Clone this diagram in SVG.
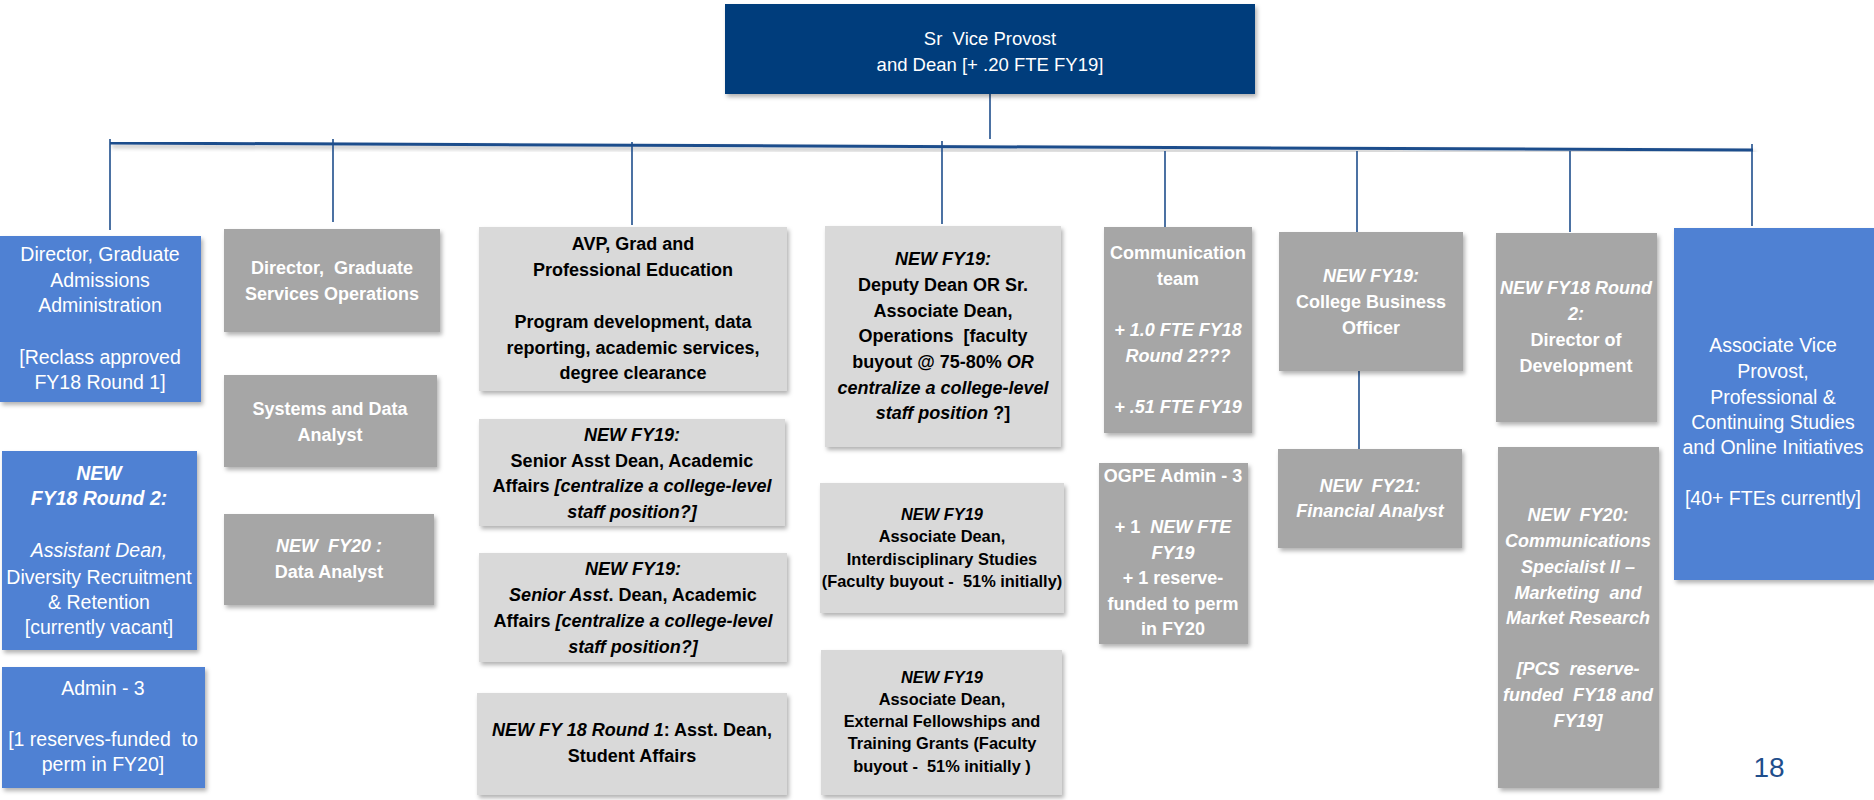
<svg xmlns="http://www.w3.org/2000/svg" width="1874" height="800" viewBox="0 0 1874 800">
<style>
text{font-family:"Liberation Sans",Arial,sans-serif;text-anchor:middle}
.w{fill:#ffffff}.k{fill:#000000}
.n{font-size:19.5px}
.b{font-size:18px;font-weight:bold}
.s{font-size:16.4px;font-weight:bold}
.i{font-style:italic}
.bi{font-style:italic;font-weight:bold}
.top{fill:#033E7B}.blue{fill:#4F81D3}.gray{fill:#A6A6A6}.lg{fill:#D9D9D9}
.ln{stroke:#1F4E8C;stroke-width:1.6;fill:none}
</style>
<defs>
<filter id="sh" x="-10%" y="-10%" width="130%" height="130%">
<feDropShadow dx="2" dy="3" stdDeviation="2" flood-color="#000" flood-opacity="0.3"/>
</filter>
</defs>
<rect width="1874" height="800" fill="#ffffff"/>

<g id="connectors">
<line class="ln" x1="990" y1="94" x2="990" y2="139"/>
<line x1="110" y1="143" x2="1753" y2="150" stroke="#1F4E8C" stroke-width="3" filter="url(#sh)"/>
<line class="ln" x1="110" y1="139" x2="110" y2="230"/>
<line class="ln" x1="333" y1="139" x2="333" y2="222"/>
<line class="ln" x1="632" y1="142" x2="632" y2="225"/>
<line class="ln" x1="942" y1="141" x2="942" y2="224"/>
<line class="ln" x1="1165" y1="151" x2="1165" y2="232"/>
<line class="ln" x1="1357" y1="151" x2="1357" y2="232"/>
<line class="ln" x1="1570" y1="151" x2="1570" y2="232"/>
<line class="ln" x1="1752" y1="144" x2="1752" y2="226"/>
<line class="ln" x1="1359" y1="367" x2="1359" y2="449" stroke-width="2.2"/>
</g>

<g id="n-top">
<rect class="top" x="725" y="4" width="530" height="90" filter="url(#sh)"/>
<text class="w" x="990" y="44.5" font-size="18.5" xml:space="preserve">Sr  Vice Provost</text>
<text class="w" x="990" y="70.5" font-size="18.5">and Dean [+ .20 FTE FY19]</text>
</g>

<g id="n-a1">
<rect class="blue" x="0" y="236" width="201" height="166" filter="url(#sh)"/>
<text class="w n" x="100" y="261">Director, Graduate</text>
<text class="w n" x="100" y="287">Admissions</text>
<text class="w n" x="100" y="312">Administration</text>
<text class="w n" x="100" y="364">[Reclass approved</text>
<text class="w n" x="100" y="389">FY18 Round 1]</text>
</g>

<g id="n-a2">
<rect class="blue" x="2" y="451" width="195" height="199" filter="url(#sh)"/>
<text class="w n bi" x="99" y="480">NEW</text>
<text class="w n bi" x="99" y="505">FY18 Round 2:</text>
<text class="w n i" x="99" y="557">Assistant Dean,</text>
<text class="w n" x="99" y="584">Diversity Recruitment</text>
<text class="w n" x="99" y="609">&amp; Retention</text>
<text class="w n" x="99" y="634">[currently vacant]</text>
</g>

<g id="n-a3">
<rect class="blue" x="2" y="667" width="203" height="121" filter="url(#sh)"/>
<text class="w n" x="103" y="695">Admin - 3</text>
<text class="w n" x="103" y="746" xml:space="preserve">[1 reserves-funded  to</text>
<text class="w n" x="103" y="771">perm in FY20]</text>
</g>

<g id="n-b1">
<rect class="gray" x="224" y="229" width="216" height="103" filter="url(#sh)"/>
<text class="w b" x="332" y="274" xml:space="preserve">Director,  Graduate</text>
<text class="w b" x="332" y="300">Services Operations</text>
</g>

<g id="n-b2">
<rect class="gray" x="224" y="375" width="213" height="92" filter="url(#sh)"/>
<text class="w b" x="330" y="415">Systems and Data</text>
<text class="w b" x="330" y="441">Analyst</text>
</g>

<g id="n-b3">
<rect class="gray" x="224" y="514" width="210" height="91" filter="url(#sh)"/>
<text class="w b i" x="329" y="552" xml:space="preserve">NEW  FY20 :</text>
<text class="w b" x="329" y="578">Data Analyst</text>
</g>

<g id="n-c1">
<rect class="lg" x="479" y="227" width="308" height="164" filter="url(#sh)"/>
<text class="k b" x="633" y="250">AVP, Grad and</text>
<text class="k b" x="633" y="276">Professional Education</text>
<text class="k b" x="633" y="328">Program development, data</text>
<text class="k b" x="633" y="354">reporting, academic services,</text>
<text class="k b" x="633" y="379">degree clearance</text>
</g>

<g id="n-c2">
<rect class="lg" x="479" y="419" width="306" height="107" filter="url(#sh)"/>
<text class="k b i" x="632" y="441">NEW FY19:</text>
<text class="k b" x="632" y="466.5">Senior Asst Dean, Academic</text>
<text class="k b" x="632" y="492">Affairs <tspan class="i">[centralize a college-level</tspan></text>
<text class="k b i" x="632" y="517.5">staff position?]</text>
</g>

<g id="n-c3">
<rect class="lg" x="479" y="553" width="308" height="109" filter="url(#sh)"/>
<text class="k b i" x="633" y="575">NEW FY19:</text>
<text class="k b" x="633" y="601"><tspan class="i">Senior Asst</tspan>. Dean, Academic</text>
<text class="k b" x="633" y="627">Affairs <tspan class="i">[centralize a college-level</tspan></text>
<text class="k b i" x="633" y="653">staff position?]</text>
</g>

<g id="n-c4">
<rect class="lg" x="477" y="693" width="310" height="102" filter="url(#sh)"/>
<text class="k b" x="632" y="736"><tspan class="i">NEW FY 18 Round 1</tspan>: Asst. Dean,</text>
<text class="k b" x="632" y="762">Student Affairs</text>
</g>

<g id="n-d1">
<rect class="lg" x="825" y="226" width="236" height="221" filter="url(#sh)"/>
<text class="k b i" x="943" y="265">NEW FY19:</text>
<text class="k b" x="943" y="291">Deputy Dean OR Sr.</text>
<text class="k b" x="943" y="316.5">Associate Dean,</text>
<text class="k b" x="943" y="342" xml:space="preserve">Operations  [faculty</text>
<text class="k b" x="943" y="368">buyout @ 75-80% <tspan class="i">OR</tspan></text>
<text class="k b i" x="943" y="393.5">centralize a college-level</text>
<text class="k b" x="943" y="419"><tspan class="i">staff position</tspan> ?]</text>
</g>

<g id="n-d2">
<rect class="lg" x="820" y="483" width="244" height="130" filter="url(#sh)"/>
<text class="k s i" x="942" y="520">NEW FY19</text>
<text class="k s" x="942" y="542">Associate Dean,</text>
<text class="k s" x="942" y="565">Interdisciplinary Studies</text>
<text class="k s" x="942" y="587" xml:space="preserve">(Faculty buyout -  51% initially)</text>
</g>

<g id="n-d3">
<rect class="lg" x="821" y="650" width="241" height="145" filter="url(#sh)"/>
<text class="k s i" x="942" y="683">NEW FY19</text>
<text class="k s" x="942" y="705">Associate Dean,</text>
<text class="k s" x="942" y="727">External Fellowships and</text>
<text class="k s" x="942" y="749">Training Grants (Faculty</text>
<text class="k s" x="942" y="772" xml:space="preserve">buyout -  51% initially )</text>
</g>

<g id="n-e1">
<rect class="gray" x="1104" y="227" width="148" height="206" filter="url(#sh)"/>
<text class="w b" x="1178" y="259">Communication</text>
<text class="w b" x="1178" y="284.5">team</text>
<text class="w b i" x="1178" y="336">+ 1.0 FTE FY18</text>
<text class="w b i" x="1178" y="362">Round 2???</text>
<text class="w b i" x="1178" y="413">+ .51 FTE FY19</text>
</g>

<g id="n-e2">
<rect class="gray" x="1099" y="463" width="149" height="181" filter="url(#sh)"/>
<text class="w b" x="1173" y="482">OGPE Admin - 3</text>
<text class="w b" x="1173" y="533" xml:space="preserve">+ 1  <tspan class="i">NEW FTE</tspan></text>
<text class="w b i" x="1173" y="559">FY19</text>
<text class="w b" x="1173" y="584">+ 1 reserve-</text>
<text class="w b" x="1173" y="610">funded to perm</text>
<text class="w b" x="1173" y="635">in FY20</text>
</g>

<g id="n-f1">
<rect class="gray" x="1279" y="232" width="184" height="139" filter="url(#sh)"/>
<text class="w b i" x="1371" y="282">NEW FY19:</text>
<text class="w b" x="1371" y="308">College Business</text>
<text class="w b" x="1371" y="334">Officer</text>
</g>

<g id="n-f2">
<rect class="gray" x="1278" y="449" width="184" height="99" filter="url(#sh)"/>
<text class="w b i" x="1370" y="492" xml:space="preserve">NEW  FY21:</text>
<text class="w b i" x="1370" y="517">Financial Analyst</text>
</g>

<g id="n-g1">
<rect class="gray" x="1496" y="233" width="161" height="189" filter="url(#sh)"/>
<text class="w b i" x="1576" y="294">NEW FY18 Round</text>
<text class="w b i" x="1576" y="320">2:</text>
<text class="w b" x="1576" y="346">Director of</text>
<text class="w b" x="1576" y="372">Development</text>
</g>

<g id="n-g2">
<rect class="gray" x="1498" y="447" width="161" height="341" filter="url(#sh)"/>
<text class="w b i" x="1578" y="521" xml:space="preserve">NEW  FY20:</text>
<text class="w b i" x="1578" y="547">Communications</text>
<text class="w b i" x="1578" y="573">Specialist II –</text>
<text class="w b i" x="1578" y="599" xml:space="preserve">Marketing  and</text>
<text class="w b i" x="1578" y="624">Market Research</text>
<text class="w b i" x="1578" y="675" xml:space="preserve">[PCS  reserve-</text>
<text class="w b i" x="1578" y="701" xml:space="preserve">funded  FY18 and</text>
<text class="w b i" x="1578" y="727">FY19]</text>
</g>

<g id="n-h">
<rect class="blue" x="1674" y="228" width="200" height="352" filter="url(#sh)"/>
<text class="w n" x="1773" y="352">Associate Vice</text>
<text class="w n" x="1773" y="378">Provost,</text>
<text class="w n" x="1773" y="404">Professional &amp;</text>
<text class="w n" x="1773" y="429">Continuing Studies</text>
<text class="w n" x="1773" y="454">and Online Initiatives</text>
<text class="w n" x="1773" y="505">[40+ FTEs currently]</text>
</g>

<text x="1769" y="777" font-size="28" fill="#1F4E8C">18</text>
</svg>
